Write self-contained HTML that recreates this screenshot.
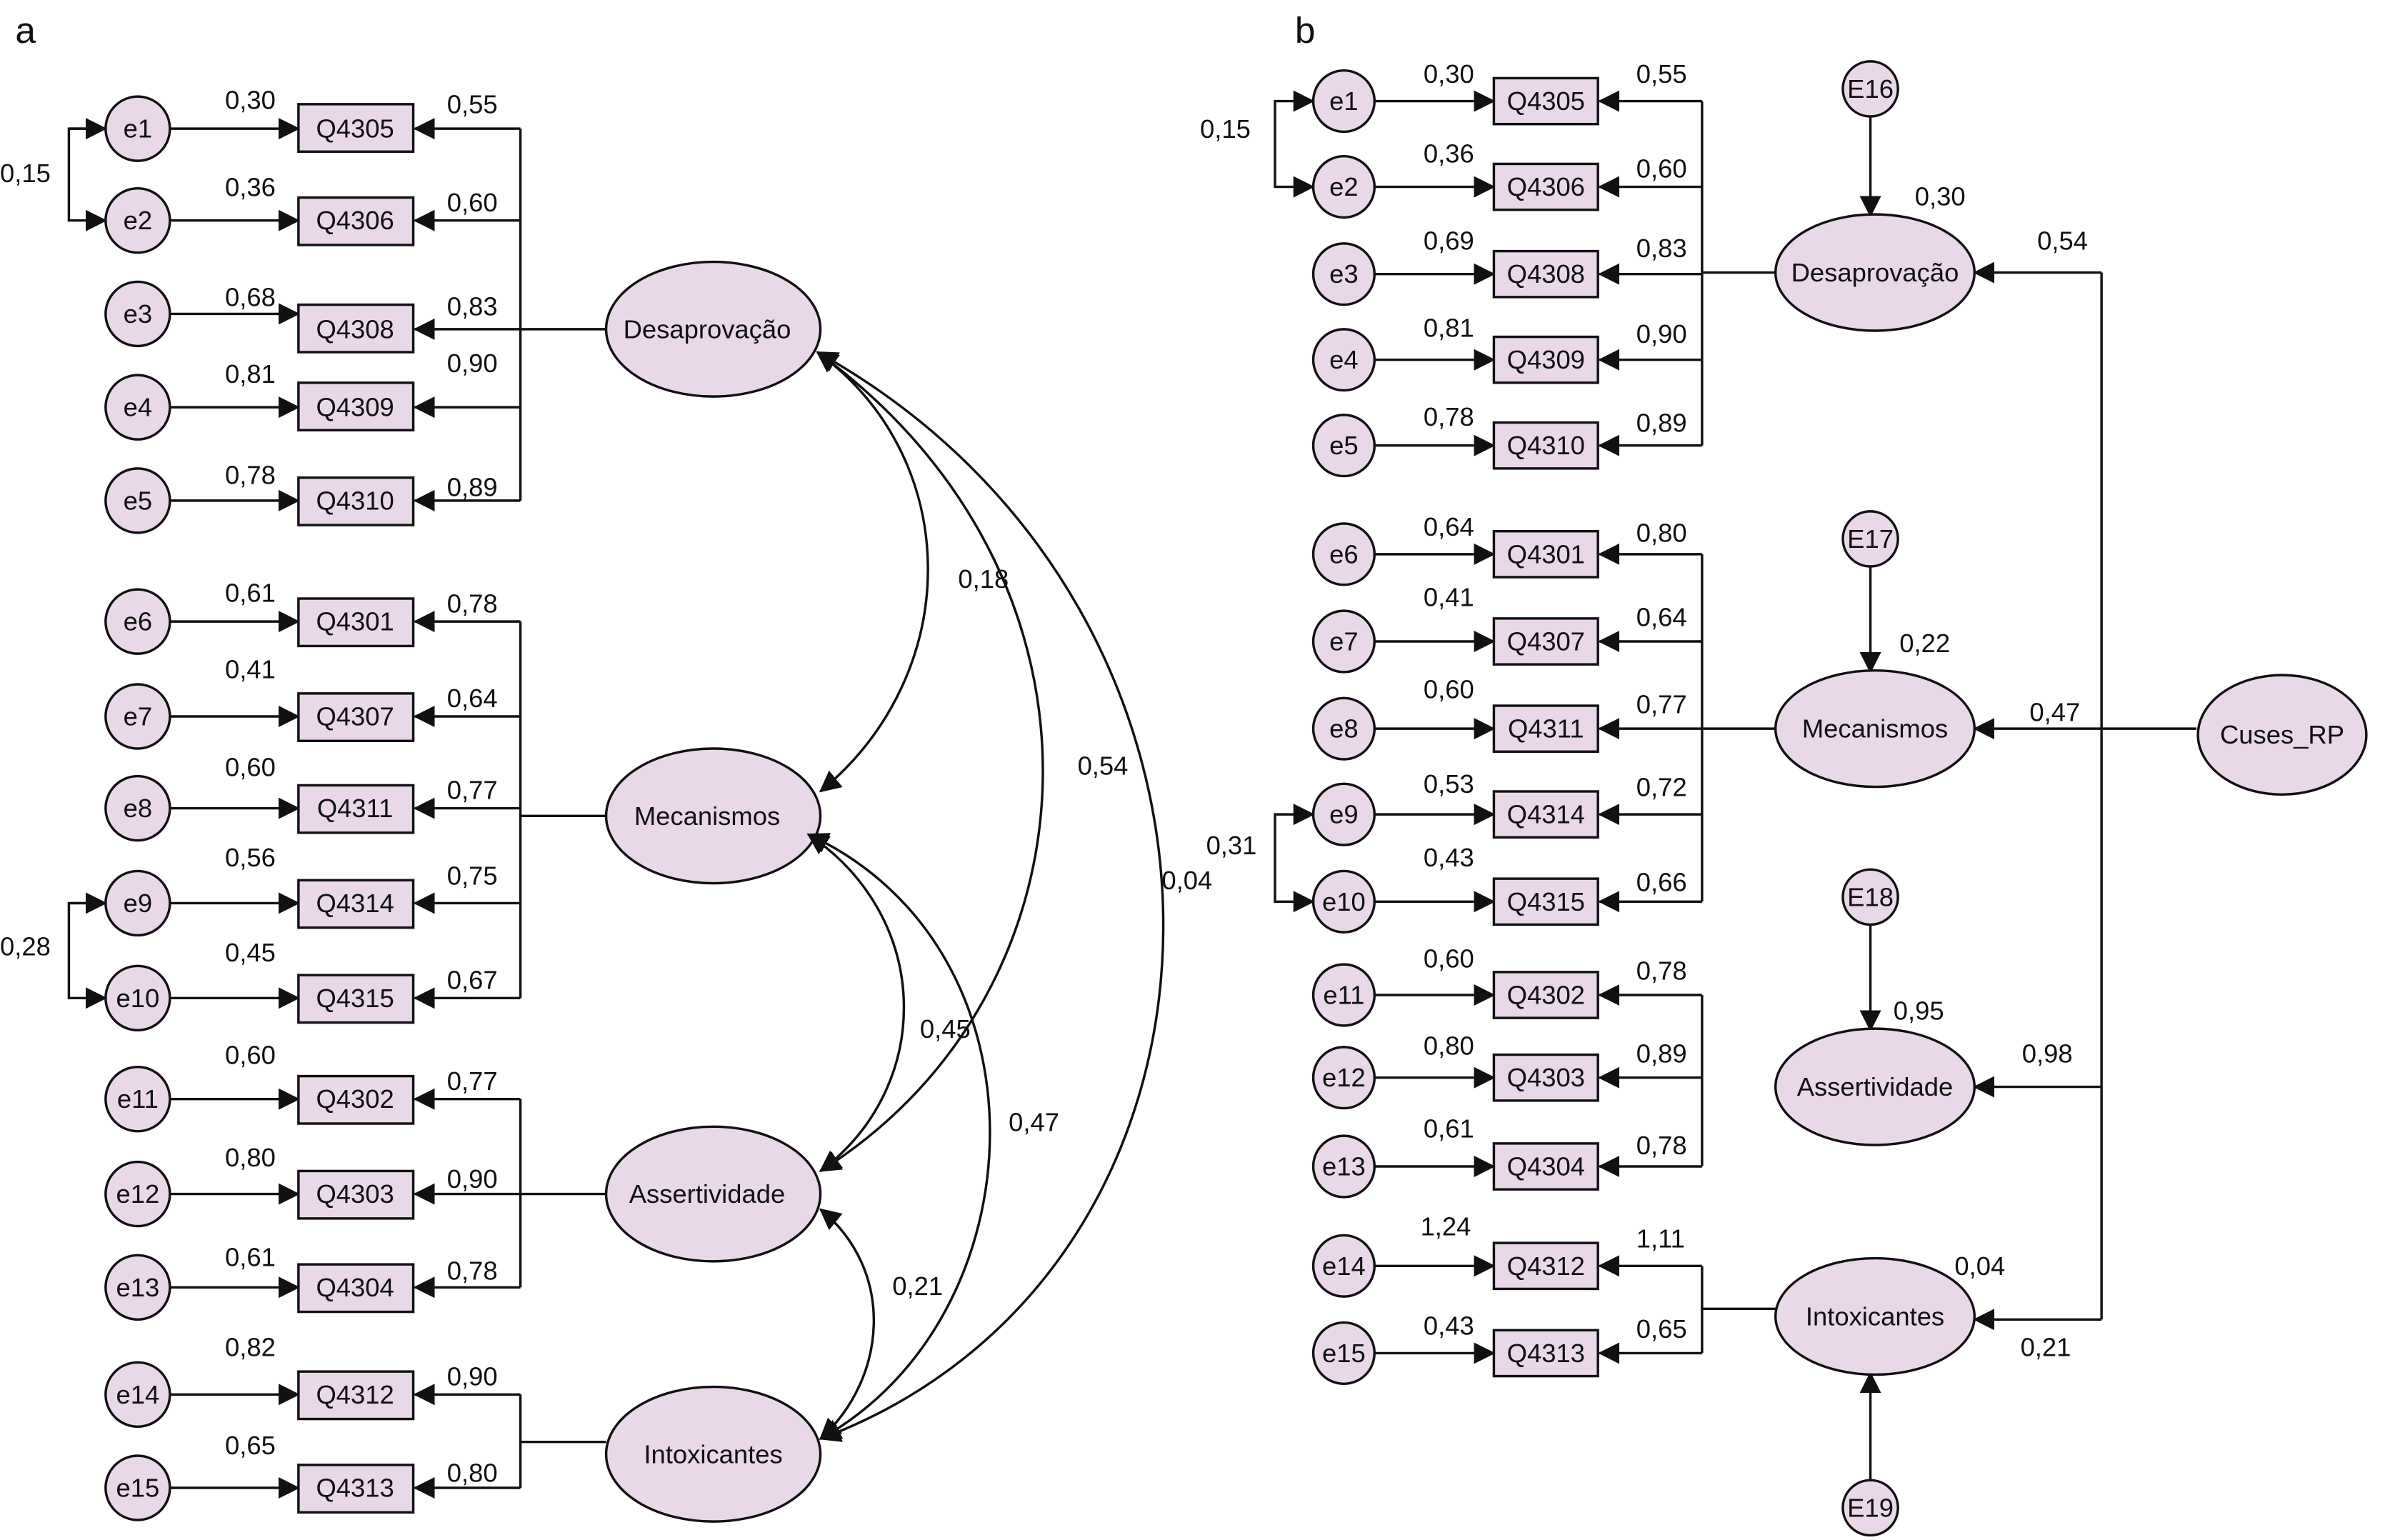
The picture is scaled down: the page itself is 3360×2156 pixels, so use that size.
<!DOCTYPE html>
<html><head><meta charset="utf-8"><style>
html,body{margin:0;padding:0;background:#fff;}
svg{display:block;}
text{font-family:"Liberation Sans",sans-serif;font-size:17px;fill:#111;}
.c{text-anchor:middle;dominant-baseline:central;}
circle,ellipse,rect{fill:#e8d8e8;stroke:#111;stroke-width:1.6;}
line,path,polyline{stroke:#111;stroke-width:1.6;fill:none;}
</style></head><body>
<svg width="3360" height="2156" viewBox="0 0 1568 1006" xmlns="http://www.w3.org/2000/svg">
<defs>
<marker id="a" markerUnits="userSpaceOnUse" markerWidth="14" markerHeight="14" refX="13" refY="7" orient="auto-start-reverse"><path d="M0,0 L14,7 L0,14 Z" style="fill:#111;stroke:none"/></marker>
</defs>
<text x="10" y="28" style="font-size:24px">a</text>
<text x="846" y="28" style="font-size:24px">b</text>

<!-- PANEL A -->
<g>
<g id="ra">
<circle cx="90" cy="84" r="21"/><text class="c" x="90" y="84">e1</text>
<circle cx="90" cy="144" r="21"/><text class="c" x="90" y="144">e2</text>
<circle cx="90" cy="205" r="21"/><text class="c" x="90" y="205">e3</text>
<circle cx="90" cy="266" r="21"/><text class="c" x="90" y="266">e4</text>
<circle cx="90" cy="327" r="21"/><text class="c" x="90" y="327">e5</text>
<circle cx="90" cy="406" r="21"/><text class="c" x="90" y="406">e6</text>
<circle cx="90" cy="468" r="21"/><text class="c" x="90" y="468">e7</text>
<circle cx="90" cy="528" r="21"/><text class="c" x="90" y="528">e8</text>
<circle cx="90" cy="590" r="21"/><text class="c" x="90" y="590">e9</text>
<circle cx="90" cy="652" r="21"/><text class="c" x="90" y="652">e10</text>
<circle cx="90" cy="718" r="21"/><text class="c" x="90" y="718">e11</text>
<circle cx="90" cy="780" r="21"/><text class="c" x="90" y="780">e12</text>
<circle cx="90" cy="841" r="21"/><text class="c" x="90" y="841">e13</text>
<circle cx="90" cy="911" r="21"/><text class="c" x="90" y="911">e14</text>
<circle cx="90" cy="972" r="21"/><text class="c" x="90" y="972">e15</text>
</g>
<g marker-end="url(#a)">
<line x1="111" y1="84" x2="195" y2="84"/><line x1="111" y1="144" x2="195" y2="144"/><line x1="111" y1="205" x2="195" y2="205"/><line x1="111" y1="266" x2="195" y2="266"/><line x1="111" y1="327" x2="195" y2="327"/>
<line x1="111" y1="406" x2="195" y2="406"/><line x1="111" y1="468" x2="195" y2="468"/><line x1="111" y1="528" x2="195" y2="528"/><line x1="111" y1="590" x2="195" y2="590"/><line x1="111" y1="652" x2="195" y2="652"/>
<line x1="111" y1="718" x2="195" y2="718"/><line x1="111" y1="780" x2="195" y2="780"/><line x1="111" y1="841" x2="195" y2="841"/><line x1="111" y1="911" x2="195" y2="911"/><line x1="111" y1="972" x2="195" y2="972"/>
<line x1="340" y1="84" x2="271" y2="84"/><line x1="340" y1="144" x2="271" y2="144"/><line x1="340" y1="215" x2="271" y2="215"/><line x1="340" y1="266" x2="271" y2="266"/><line x1="340" y1="327" x2="271" y2="327"/>
<line x1="340" y1="406" x2="271" y2="406"/><line x1="340" y1="468" x2="271" y2="468"/><line x1="340" y1="528" x2="271" y2="528"/><line x1="340" y1="590" x2="271" y2="590"/><line x1="340" y1="652" x2="271" y2="652"/>
<line x1="340" y1="718" x2="271" y2="718"/><line x1="340" y1="780" x2="271" y2="780"/><line x1="340" y1="841" x2="271" y2="841"/><line x1="340" y1="911" x2="271" y2="911"/><line x1="340" y1="972" x2="271" y2="972"/>
<polyline points="69,84 45,84 45,144 69,144"/>
<line x1="46" y1="84" x2="69" y2="84"/><line x1="46" y1="590" x2="69" y2="590"/>
<polyline points="69,590 45,590 45,652 69,652"/>
</g>
<rect x="195" y="68" width="75" height="31"/><text class="c" x="232" y="84">Q4305</text>
<rect x="195" y="129" width="75" height="31"/><text class="c" x="232" y="144">Q4306</text>
<rect x="195" y="199" width="75" height="31"/><text class="c" x="232" y="215">Q4308</text>
<rect x="195" y="250" width="75" height="31"/><text class="c" x="232" y="266">Q4309</text>
<rect x="195" y="312" width="75" height="31"/><text class="c" x="232" y="327">Q4310</text>
<rect x="195" y="391" width="75" height="31"/><text class="c" x="232" y="406">Q4301</text>
<rect x="195" y="453" width="75" height="31"/><text class="c" x="232" y="468">Q4307</text>
<rect x="195" y="513" width="75" height="31"/><text class="c" x="232" y="528">Q4311</text>
<rect x="195" y="575" width="75" height="31"/><text class="c" x="232" y="590">Q4314</text>
<rect x="195" y="637" width="75" height="31"/><text class="c" x="232" y="652">Q4315</text>
<rect x="195" y="703" width="75" height="31"/><text class="c" x="232" y="718">Q4302</text>
<rect x="195" y="765" width="75" height="31"/><text class="c" x="232" y="780">Q4303</text>
<rect x="195" y="826" width="75" height="31"/><text class="c" x="232" y="841">Q4304</text>
<rect x="195" y="896" width="75" height="31"/><text class="c" x="232" y="911">Q4312</text>
<rect x="195" y="957" width="75" height="31"/><text class="c" x="232" y="972">Q4313</text>
<line x1="340" y1="84" x2="340" y2="327"/><line x1="340" y1="215" x2="396" y2="215"/>
<line x1="340" y1="406" x2="340" y2="652"/><line x1="340" y1="533" x2="396" y2="533"/>
<line x1="340" y1="718" x2="340" y2="841"/><line x1="340" y1="780" x2="396" y2="780"/>
<line x1="340" y1="911" x2="340" y2="972"/><line x1="340" y1="942" x2="396" y2="942"/>
<ellipse cx="466" cy="215" rx="70" ry="44"/><text class="c" x="462" y="215">Desaprovação</text>
<ellipse cx="466" cy="533" rx="70" ry="44"/><text class="c" x="462" y="533">Mecanismos</text>
<ellipse cx="466" cy="780" rx="70" ry="44"/><text class="c" x="462" y="780">Assertividade</text>
<ellipse cx="466" cy="950" rx="70" ry="44"/><text class="c" x="466" y="950">Intoxicantes</text>
<g>
<text x="147" y="71">0,30</text><text x="147" y="128">0,36</text><text x="147" y="200">0,68</text><text x="147" y="250">0,81</text><text x="147" y="316">0,78</text>
<text x="147" y="393">0,61</text><text x="147" y="443">0,41</text><text x="147" y="507">0,60</text><text x="147" y="566">0,56</text><text x="147" y="628">0,45</text>
<text x="147" y="695">0,60</text><text x="147" y="762">0,80</text><text x="147" y="827">0,61</text><text x="147" y="886">0,82</text><text x="147" y="950">0,65</text>
<text x="292" y="74">0,55</text><text x="292" y="138">0,60</text><text x="292" y="206">0,83</text><text x="292" y="243">0,90</text><text x="292" y="324">0,89</text>
<text x="292" y="400">0,78</text><text x="292" y="462">0,64</text><text x="292" y="522">0,77</text><text x="292" y="578">0,75</text><text x="292" y="646">0,67</text>
<text x="292" y="712">0,77</text><text x="292" y="776">0,90</text><text x="292" y="836">0,78</text><text x="292" y="905">0,90</text><text x="292" y="968">0,80</text>
<text x="0" y="119">0,15</text><text x="0" y="624">0,28</text>
</g>
<g marker-start="url(#a)" marker-end="url(#a)">
<path d="M534,230 C630,300 630,440 536,517"/>
<path d="M534,230 C740,380 720,650 536,765"/>
<path d="M534,230 C840,400 830,830 536,940"/>
<path d="M528,545 C610,600 610,710 536,765"/>
<path d="M528,545 C690,620 680,860 536,940"/>
<path d="M536,790 C585,830 580,900 536,940"/>
</g>
<text x="626" y="384">0,18</text><text x="704" y="506">0,54</text><text x="759" y="581">0,04</text>
<text x="601" y="678">0,45</text><text x="659" y="739">0,47</text><text x="583" y="846">0,21</text>
</g>

<!-- PANEL B -->
<g>
<circle cx="878" cy="66" r="20"/><text class="c" x="878" y="66">e1</text>
<circle cx="878" cy="122" r="20"/><text class="c" x="878" y="122">e2</text>
<circle cx="878" cy="179" r="20"/><text class="c" x="878" y="179">e3</text>
<circle cx="878" cy="235" r="20"/><text class="c" x="878" y="235">e4</text>
<circle cx="878" cy="291" r="20"/><text class="c" x="878" y="291">e5</text>
<circle cx="878" cy="362" r="20"/><text class="c" x="878" y="362">e6</text>
<circle cx="878" cy="419" r="20"/><text class="c" x="878" y="419">e7</text>
<circle cx="878" cy="476" r="20"/><text class="c" x="878" y="476">e8</text>
<circle cx="878" cy="532" r="20"/><text class="c" x="878" y="532">e9</text>
<circle cx="878" cy="589" r="20"/><text class="c" x="878" y="589">e10</text>
<circle cx="878" cy="650" r="20"/><text class="c" x="878" y="650">e11</text>
<circle cx="878" cy="704" r="20"/><text class="c" x="878" y="704">e12</text>
<circle cx="878" cy="762" r="20"/><text class="c" x="878" y="762">e13</text>
<circle cx="878" cy="827" r="20"/><text class="c" x="878" y="827">e14</text>
<circle cx="878" cy="884" r="20"/><text class="c" x="878" y="884">e15</text>
<g marker-end="url(#a)">
<line x1="898" y1="66" x2="976" y2="66"/><line x1="898" y1="122" x2="976" y2="122"/><line x1="898" y1="179" x2="976" y2="179"/><line x1="898" y1="235" x2="976" y2="235"/><line x1="898" y1="291" x2="976" y2="291"/>
<line x1="898" y1="362" x2="976" y2="362"/><line x1="898" y1="419" x2="976" y2="419"/><line x1="898" y1="476" x2="976" y2="476"/><line x1="898" y1="532" x2="976" y2="532"/><line x1="898" y1="589" x2="976" y2="589"/>
<line x1="898" y1="650" x2="976" y2="650"/><line x1="898" y1="704" x2="976" y2="704"/><line x1="898" y1="762" x2="976" y2="762"/><line x1="898" y1="827" x2="976" y2="827"/><line x1="898" y1="884" x2="976" y2="884"/>
<line x1="1112" y1="66" x2="1045" y2="66"/><line x1="1112" y1="122" x2="1045" y2="122"/><line x1="1112" y1="179" x2="1045" y2="179"/><line x1="1112" y1="235" x2="1045" y2="235"/><line x1="1112" y1="291" x2="1045" y2="291"/>
<line x1="1112" y1="362" x2="1045" y2="362"/><line x1="1112" y1="419" x2="1045" y2="419"/><line x1="1112" y1="476" x2="1045" y2="476"/><line x1="1112" y1="532" x2="1045" y2="532"/><line x1="1112" y1="589" x2="1045" y2="589"/>
<line x1="1112" y1="650" x2="1045" y2="650"/><line x1="1112" y1="704" x2="1045" y2="704"/><line x1="1112" y1="762" x2="1045" y2="762"/><line x1="1112" y1="827" x2="1045" y2="827"/><line x1="1112" y1="884" x2="1045" y2="884"/>
<line x1="834" y1="66" x2="858" y2="66"/><polyline points="834,66 833,66 833,122 858,122"/>
<line x1="834" y1="532" x2="858" y2="532"/><polyline points="834,532 833,532 833,589 858,589"/>
<line x1="1222" y1="76" x2="1222" y2="141"/><line x1="1222" y1="370" x2="1222" y2="439"/><line x1="1222" y1="604" x2="1222" y2="673"/><line x1="1222" y1="967" x2="1222" y2="897"/>
<line x1="1373" y1="178" x2="1290" y2="178"/><line x1="1435" y1="476" x2="1290" y2="476"/><line x1="1373" y1="710" x2="1290" y2="710"/><line x1="1373" y1="862" x2="1290" y2="862"/>
</g>
<rect x="976" y="51" width="68" height="30"/><text class="c" x="1010" y="66">Q4305</text>
<rect x="976" y="107" width="68" height="30"/><text class="c" x="1010" y="122">Q4306</text>
<rect x="976" y="164" width="68" height="30"/><text class="c" x="1010" y="179">Q4308</text>
<rect x="976" y="220" width="68" height="30"/><text class="c" x="1010" y="235">Q4309</text>
<rect x="976" y="276" width="68" height="30"/><text class="c" x="1010" y="291">Q4310</text>
<rect x="976" y="347" width="68" height="30"/><text class="c" x="1010" y="362">Q4301</text>
<rect x="976" y="404" width="68" height="30"/><text class="c" x="1010" y="419">Q4307</text>
<rect x="976" y="461" width="68" height="30"/><text class="c" x="1010" y="476">Q4311</text>
<rect x="976" y="517" width="68" height="30"/><text class="c" x="1010" y="532">Q4314</text>
<rect x="976" y="574" width="68" height="30"/><text class="c" x="1010" y="589">Q4315</text>
<rect x="976" y="635" width="68" height="30"/><text class="c" x="1010" y="650">Q4302</text>
<rect x="976" y="689" width="68" height="30"/><text class="c" x="1010" y="704">Q4303</text>
<rect x="976" y="747" width="68" height="30"/><text class="c" x="1010" y="762">Q4304</text>
<rect x="976" y="812" width="68" height="30"/><text class="c" x="1010" y="827">Q4312</text>
<rect x="976" y="869" width="68" height="30"/><text class="c" x="1010" y="884">Q4313</text>
<line x1="1112" y1="66" x2="1112" y2="291"/><line x1="1112" y1="178" x2="1160" y2="178"/>
<line x1="1112" y1="362" x2="1112" y2="589"/><line x1="1112" y1="476" x2="1160" y2="476"/>
<line x1="1112" y1="650" x2="1112" y2="762"/>
<line x1="1112" y1="827" x2="1112" y2="884"/><line x1="1112" y1="855" x2="1160" y2="855"/>
<line x1="1373" y1="178" x2="1373" y2="862"/>
<ellipse cx="1225" cy="178" rx="65" ry="38"/><text class="c" x="1225" y="178">Desaprovação</text>
<ellipse cx="1225" cy="476" rx="65" ry="38"/><text class="c" x="1225" y="476">Mecanismos</text>
<ellipse cx="1225" cy="710" rx="65" ry="38"/><text class="c" x="1225" y="710">Assertividade</text>
<ellipse cx="1225" cy="860" rx="65" ry="38"/><text class="c" x="1225" y="860">Intoxicantes</text>
<ellipse cx="1491" cy="480" rx="55" ry="39"/><text class="c" x="1491" y="480">Cuses_RP</text>
<circle cx="1222" cy="58" r="18"/><text class="c" x="1222" y="58">E16</text>
<circle cx="1222" cy="352" r="18"/><text class="c" x="1222" y="352">E17</text>
<circle cx="1222" cy="586" r="18"/><text class="c" x="1222" y="586">E18</text>
<circle cx="1222" cy="985" r="18"/><text class="c" x="1222" y="985">E19</text>
<text x="930" y="54">0,30</text><text x="930" y="106">0,36</text><text x="930" y="163">0,69</text><text x="930" y="220">0,81</text><text x="930" y="278">0,78</text>
<text x="930" y="350">0,64</text><text x="930" y="396">0,41</text><text x="930" y="456">0,60</text><text x="930" y="518">0,53</text><text x="930" y="566">0,43</text>
<text x="930" y="632">0,60</text><text x="930" y="689">0,80</text><text x="930" y="743">0,61</text><text x="928" y="807">1,24</text><text x="930" y="872">0,43</text>
<text x="1069" y="54">0,55</text><text x="1069" y="116">0,60</text><text x="1069" y="168">0,83</text><text x="1069" y="224">0,90</text><text x="1069" y="282">0,89</text>
<text x="1069" y="354">0,80</text><text x="1069" y="409">0,64</text><text x="1069" y="466">0,77</text><text x="1069" y="520">0,72</text><text x="1069" y="582">0,66</text>
<text x="1069" y="640">0,78</text><text x="1069" y="694">0,89</text><text x="1069" y="754">0,78</text><text x="1069" y="815">1,11</text><text x="1069" y="874">0,65</text>
<text x="784" y="90">0,15</text><text x="788" y="558">0,31</text>
<text x="1251" y="134">0,30</text><text x="1241" y="426">0,22</text><text x="1237" y="666">0,95</text>
<text x="1331" y="163">0,54</text><text x="1326" y="471">0,47</text><text x="1321" y="694">0,98</text><text x="1277" y="833">0,04</text><text x="1320" y="886">0,21</text>
</g>
</svg>
</body></html>
